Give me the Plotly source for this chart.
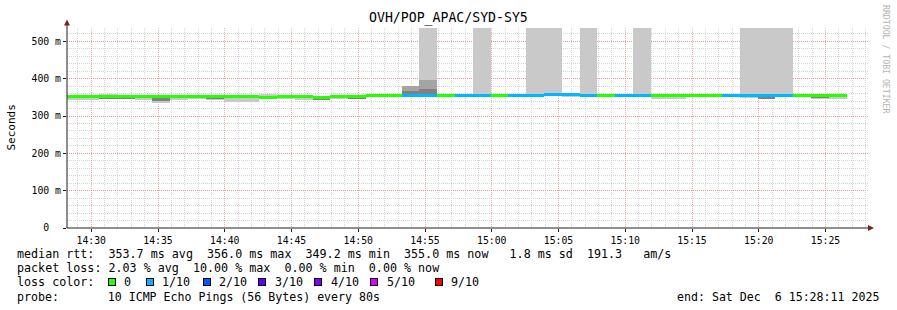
import pandas as pd
import plotly.graph_objects as go

# ---------------- data ----------------
SEG_START = "2025-12-06 14:27:55"   # first 80 s step boundary
STEP_S = 80
N_SEG = 44
X_RANGE = ["2025-12-06 14:28:11", "2025-12-06 15:28:11"]

# median rtt per step (ms)
median_ms = [352, 353.5, 352, 353, 353.5, 352, 353.5, 352, 353, 353.5,
             353.5, 350.5, 352, 353, 350.5, 353.5, 352.5, 355, 356, 356,
             356, 356, 356, 356, 356, 356, 356, 356.5, 356.5, 356,
             356, 356, 356, 356, 356, 356, 356, 356, 355, 355,
             356, 356, 356, 356]
# lost pings out of 10 per step
loss = [0, 0, 0, 0, 0, 0, 0, 0, 0, 0,
        0, 0, 0, 0, 0, 0, 0, 0, 0, 1,
        1, 0, 1, 1, 0, 1, 1, 1, 1, 1,
        0, 1, 1, 0, 0, 0, 0, 1, 1, 1,
        1, 0, 0, 0]
# outer smoke (light grey) min / max per step (ms)
smoke_lo = [343, 343, 346, 346, 343, 336, 343, 346, 343, 339,
            339, 346, 346, 343, 344, 345, 345, 353, 353, None,
            353, 353, 353, 353, 353, 353, 353, 353, 353, 353,
            353, 353, 353, 346, 346, 353, 353, 353, 349, 347,
            353, 353, 346, 346]
smoke_hi = [354, 355, 358, 357, 355, 355, 355, 355, 355, 355,
            355, 358, 355, 355, 353, 355, 354, 357, 358, None,
            560, 358, 358, 560, 358, 358, 560, 560, 358, 560,
            358, 358, 560, 358, 358, 358, 358, 358, 560, 560,
            560, 358, 358, 358]
# middle smoke band
mid_lo = [None] * 19 + [353, 353] + [None] * 23
mid_hi = [None] * 19 + [380, 396] + [None] * 23
# inner (dark) smoke band
dark_lo = [349, None, 346, 346, None, 341, None, 349, 347, None,
           None, None, 349, None, 345, None, 346, None, None, 353,
           353, None, None, None, None, None, None, None, None, None,
           None, None, None, None, None, None, None, None, None, 347,
           None, None, 349, None]
dark_hi = [351, None, 350, 349, None, 348, None, 351, 350, None,
           None, None, 351, None, 348, None, 349, None, None, 366,
           372, None, None, None, None, None, None, None, None, None,
           None, None, None, None, None, None, None, None, None, 352,
           None, None, 351, None]

y_tickvals = [0, 100, 200, 300, 400, 500]
y_ticktext = ["0\u00a0\u00a0", "100 m", "200 m", "300 m", "400 m", "500 m"]

loss_labels = ["0", "1/10", "2/10", "3/10", "4/10", "5/10", "9/10"]
loss_colors = ["#26ff00", "#00b8ff", "#0059ff", "#5e00ff", "#7e00ff", "#dd00ff", "#ff0000"]
loss_color_by_count = {0: "#26ff00", 1: "#00b8ff", 2: "#0059ff", 3: "#5e00ff",
                       4: "#7e00ff", 5: "#dd00ff", 9: "#ff0000"}

title = "OVH/POP_APAC/SYD-SY5"
stat_lines = [
    "median rtt:  353.7 ms avg  356.0 ms max  349.2 ms min  355.0 ms now   1.8 ms sd  191.3   am/s",
    "packet loss: 2.03 % avg  10.00 % max  0.00 % min  0.00 % now",
]
probe_line = "probe:       10 ICMP Echo Pings (56 Bytes) every 80s"
end_line = "end: Sat Dec  6 15:28:11 2025"

# ---------------- figure ----------------
MONO = "DejaVu Sans Mono"
W, H = 897, 310
L, R, T, B = 67, 29, 28, 82
PW, PH = W - L - R, H - T - B

def px(x):
    return (x - L) / PW

def py(y):
    return (H - B - y) / PH

t0 = pd.Timestamp(SEG_START)
centers = [t0 + pd.Timedelta(seconds=STEP_S * k + STEP_S / 2) for k in range(N_SEG)]
width_ms = STEP_S * 1000

def band(lo, hi, color):
    base = [l if (l is not None and h is not None) else None for l, h in zip(lo, hi)]
    hgt = [(h - l) if (l is not None and h is not None) else None for l, h in zip(lo, hi)]
    return go.Bar(x=centers, base=base, y=hgt, width=width_ms,
                  marker=dict(color=color, line=dict(width=0)),
                  hoverinfo="skip", showlegend=False)

fig = go.Figure()
fig.add_trace(band(smoke_lo, smoke_hi, "#c9c9c9"))
fig.add_trace(band(mid_lo, mid_hi, "#a4a4a4"))
fig.add_trace(band(dark_lo, dark_hi, "#808080"))
fig.add_trace(go.Bar(x=centers, base=[m - 4 for m in median_ms], y=[8] * N_SEG,
                     width=width_ms,
                     marker=dict(color=[loss_color_by_count[c] for c in loss], line=dict(width=0)),
                     hoverinfo="skip", showlegend=False))

GRID = "#d6d6d6"
MGRID = "rgba(235,110,110,0.55)"
fig.update_layout(
    width=W, height=H, margin=dict(l=L, r=R, t=T, b=B, pad=0),
    paper_bgcolor="white", plot_bgcolor="white",
    barmode="overlay", bargap=0,
    font=dict(family=MONO, color="black"),
    xaxis=dict(type="date", range=X_RANGE, tickformat="%H:%M",
               tick0="2025-12-06 14:30:00", dtick=300000,
               showgrid=True, gridcolor=MGRID, griddash="1px,1px", gridwidth=1,
               minor=dict(dtick=60000, showgrid=True, gridcolor=GRID, griddash="1px,1px",
                          ticks=""),
               ticks="outside", ticklen=3, tickcolor="#1f1f1f",
               tickfont=dict(family=MONO, size=9.8, color="black"),
               showline=False, zeroline=False, fixedrange=True),
    yaxis=dict(range=[0, 536], tickvals=y_tickvals, ticktext=y_ticktext,
               showgrid=True, gridcolor=MGRID, griddash="1px,1px", gridwidth=1,
               minor=dict(tick0=0, dtick=20, showgrid=True, gridcolor=GRID, griddash="1px,1px",
                          ticks=""),
               ticks="outside", ticklen=3, tickcolor="#1f1f1f",
               tickfont=dict(family=MONO, size=9.8, color="black"),
               showline=False, zeroline=False, fixedrange=True),
)

AXIS = "#1f1f1f"
ARROW = "rgb(128,31,31)"
shapes = [
    dict(type="line", xref="paper", yref="paper", x0=0, x1=0, y0=0, y1=py(24), line=dict(color=AXIS, width=1), layer="above"),
    dict(type="line", xref="paper", yref="paper", x0=0, x1=px(870), y0=0, y1=0, line=dict(color=AXIS, width=1), layer="above"),
    dict(type="path", xref="paper", yref="paper",
         path=f"M {px(64)},{py(25.5)} L {px(70)},{py(25.5)} L {px(67)},{py(19.5)} Z",
         fillcolor=ARROW, line=dict(width=0), layer="above"),
    dict(type="path", xref="paper", yref="paper",
         path=f"M {px(868)},{py(225)} L {px(868)},{py(231)} L {px(874)},{py(228)} Z",
         fillcolor=ARROW, line=dict(width=0), layer="above"),
]

def nb(s):
    return s.replace(" ", "\u00a0")

anns = []
anns.append(dict(text=title, x=px(448), y=py(18), xref="paper", yref="paper",
                 xanchor="center", yanchor="middle", showarrow=False,
                 font=dict(family=MONO, size=13.2, color="black")))
anns.append(dict(text="Seconds", x=px(10.5), y=py(127), xref="paper", yref="paper",
                 xanchor="center", yanchor="middle", showarrow=False, textangle=-90,
                 font=dict(family=MONO, size=11, color="black")))
anns.append(dict(text=nb("RRDTOOL / TOBI OETIKER"), x=px(886), y=py(59), xref="paper", yref="paper",
                 xanchor="center", yanchor="middle", showarrow=False, textangle=90,
                 font=dict(family=MONO, size=8.2, color="#b4b4b4")))
LEG = 11.7
for i, line in enumerate(stat_lines):
    anns.append(dict(text=nb(line), x=px(15), y=py(253.5 + 14.3 * i), xref="paper", yref="paper",
                     xanchor="left", yanchor="middle", showarrow=False,
                     font=dict(family=MONO, size=LEG, color="black")))
anns.append(dict(text=nb("loss color:"), x=px(15), y=py(282), xref="paper", yref="paper",
                 xanchor="left", yanchor="middle", showarrow=False,
                 font=dict(family=MONO, size=LEG, color="black")))
box_x = [108, 146, 203, 258, 314, 370, 435]
lab_x = [122, 160, 217, 273, 329, 385, 449]
for bx, lx, lab, col in zip(box_x, lab_x, loss_labels, loss_colors):
    anns.append(dict(text="", x=px(bx), y=py(282), xref="paper", yref="paper",
                     xanchor="left", yanchor="middle", showarrow=False,
                     width=6, height=6, bgcolor=col, bordercolor="black", borderwidth=1, borderpad=0))
    anns.append(dict(text=lab, x=px(lx), y=py(282), xref="paper", yref="paper",
                     xanchor="left", yanchor="middle", showarrow=False,
                     font=dict(family=MONO, size=LEG, color="black")))
anns.append(dict(text=nb(probe_line), x=px(15), y=py(296.5), xref="paper", yref="paper",
                 xanchor="left", yanchor="middle", showarrow=False,
                 font=dict(family=MONO, size=11.6, color="black")))
anns.append(dict(text=nb(end_line), x=px(881), y=py(296.5), xref="paper", yref="paper",
                 xanchor="right", yanchor="middle", showarrow=False,
                 font=dict(family=MONO, size=11.6, color="black")))

fig.update_layout(shapes=shapes, annotations=anns)
fig.write_html("out.html", config={"displayModeBar": False})
